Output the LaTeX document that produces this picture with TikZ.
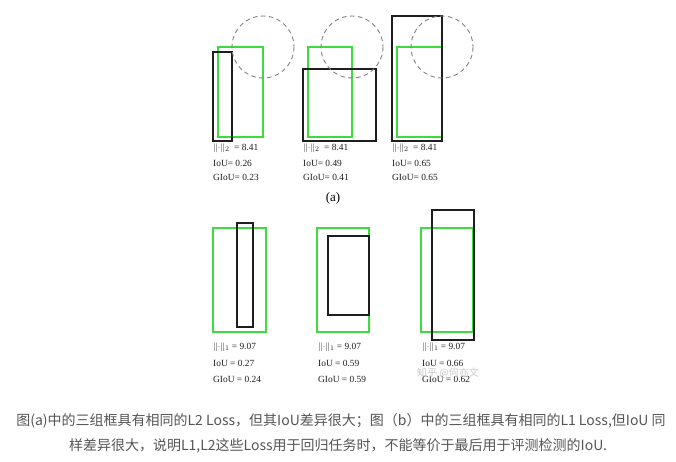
\documentclass[tikz,border=0pt]{standalone}
\usepackage{fontspec}
\setmainfont{Liberation Serif}
\newfontfamily\cjk{Noto Sans CJK SC}
\definecolor{bxgreen}{RGB}{60,220,60}
\definecolor{bxblack}{RGB}{30,30,30}
\definecolor{circgray}{RGB}{130,130,130}
\definecolor{lbltext}{RGB}{30,30,30}
\definecolor{captext}{RGB}{85,85,85}
\definecolor{wmtext}{RGB}{200,200,200}
\begin{document}
\begin{tikzpicture}[x=1pt,y=-1pt,
  gbox/.style={draw=bxgreen, line width=1.4pt},
  kbox/.style={draw=bxblack, line width=1.1pt},
  dcirc/.style={draw=circgray, dash pattern=on 4.5pt off 3.5pt, line width=0.9pt},
  lbl/.style={anchor=west, inner sep=0pt, font=\fontsize{9.4}{10}\selectfont, text=lbltext},
  captxt/.style={inner sep=0pt, font=\cjk\fontsize{14}{16}\selectfont, text=captext}]
\useasboundingbox[fill=white] (0,0) rectangle (676,461);
% (a) panel 1
\draw[gbox] (218,47) rectangle (263,137);
\draw[kbox] (213,52) rectangle (232,141);
\draw[dcirc] (263,47) circle (31);
% (a) panel 2
\draw[gbox] (308,47) rectangle (352,137);
\draw[kbox] (303,69) rectangle (376,141);
\draw[dcirc] (352,47) circle (31);
% (a) panel 3
\draw[gbox] (397,47) rectangle (442,137);
\draw[kbox] (392,16) rectangle (442,141);
\draw[dcirc] (442,47) circle (31);
% (a) labels
\node[lbl] (a1n) at (213,148) {$\|{\cdot}\|_2$\ \ = 8.41};
\node[lbl] (a1i) at (213,163) {IoU= 0.26};
\node[lbl] (a1g) at (213,177) {GIoU= 0.23};
\node[lbl] (a2n) at (303,148) {$\|{\cdot}\|_2$\ \ = 8.41};
\node[lbl] (a2i) at (303,163) {IoU= 0.49};
\node[lbl] (a2g) at (303,177) {GIoU= 0.41};
\node[lbl] (a3n) at (392,148) {$\|{\cdot}\|_2$\ \ = 8.41};
\node[lbl] (a3i) at (392,163) {IoU= 0.65};
\node[lbl] (a3g) at (392,177) {GIoU= 0.65};
\node[inner sep=0pt, font=\fontsize{13}{14}\selectfont] (alab) at (333,198) {(a)};
% (b) panel 1
\draw[gbox] (213,228) rectangle (266,332);
\draw[kbox] (237,223) rectangle (253,327);
% (b) panel 2
\draw[gbox] (317,228) rectangle (369,332);
\draw[kbox] (328,236) rectangle (369,315);
% (b) panel 3
\draw[gbox] (421,228) rectangle (473,332);
\draw[kbox] (432,210) rectangle (474,340);
% (b) labels
\node[lbl] (b1n) at (213,347) {$\|{\cdot}\|_1$ = 9.07};
\node[lbl] (b1i) at (213,363) {IoU = 0.27};
\node[lbl] (b1g) at (213,379) {GIoU = 0.24};
\node[lbl] (b2n) at (318,347) {$\|{\cdot}\|_1$ = 9.07};
\node[lbl] (b2i) at (318,363) {IoU = 0.59};
\node[lbl] (b2g) at (318,379) {GIoU = 0.59};
\node[lbl] (b3n) at (422,347) {$\|{\cdot}\|_1$ = 9.07};
\node[lbl] (b3i) at (422,363) {IoU = 0.66};
\node[lbl] (b3g) at (422,379) {GIoU = 0.62};
\node[inner sep=0pt, font=\cjk\fontsize{10}{11}\selectfont, text=wmtext] (wm) at (448,373) {知乎 @何亦文};
% caption
\node[captxt] (c1) at (341,421) {图(a)中的三组框具有相同的L2 Loss，但其IoU差异很大；图（b）中的三组框具有相同的L1 Loss,但IoU 同};
\node[captxt] (c2) at (338,446) {样差异很大，说明L1,L2这些Loss用于回归任务时，不能等价于最后用于评测检测的IoU.};
\end{tikzpicture}
\end{document}
